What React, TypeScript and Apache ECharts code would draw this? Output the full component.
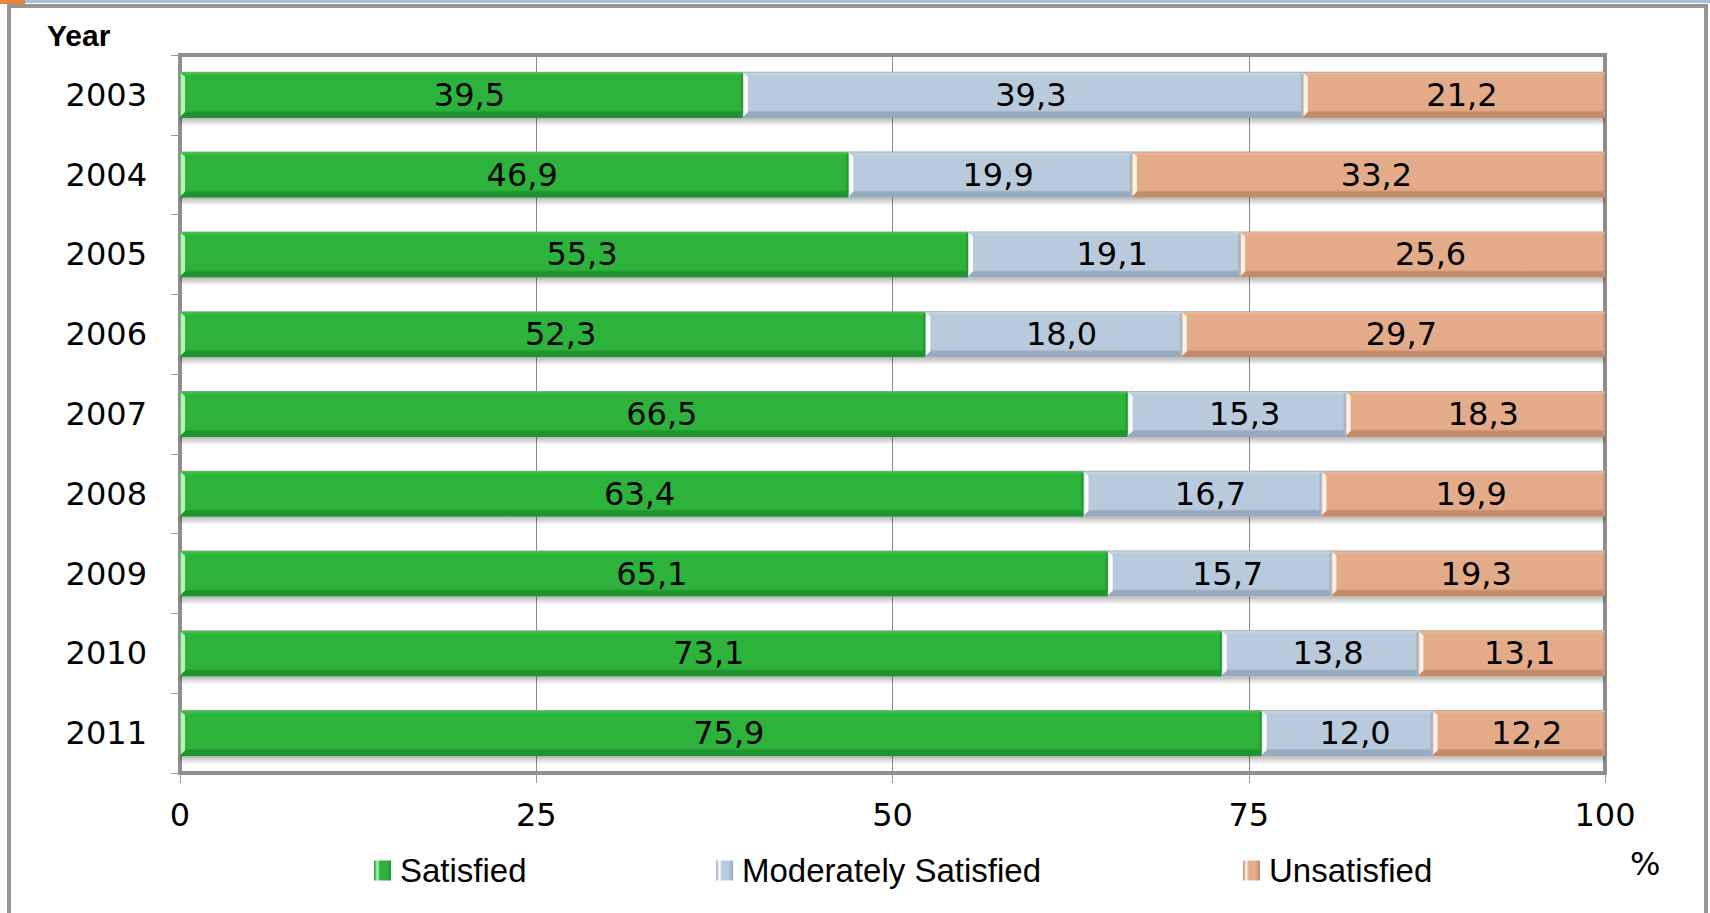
import React, { useEffect, useRef } from "react";
import * as echarts from "echarts";

// Survey results by year, shares in percent
const years = ["2003", "2004", "2005", "2006", "2007", "2008", "2009", "2010", "2011"];
const satisfied = [39.5, 46.9, 55.3, 52.3, 66.5, 63.4, 65.1, 73.1, 75.9];
const moderatelySatisfied = [39.3, 19.9, 19.1, 18.0, 15.3, 16.7, 15.7, 13.8, 12.0];
const unsatisfied = [21.2, 33.2, 25.6, 29.7, 18.3, 19.9, 19.3, 13.1, 12.2];
const seriesNames = ["Satisfied", "Moderately Satisfied", "Unsatisfied"];
const xTicks = [0, 25, 50, 75, 100];

type Palette = { main: string; top: string; bottom: string; light: string; edge: string };

const palettes: Palette[] = [
  { main: "#2db33b", top: "#3ac248", bottom: "#219230", light: "#b4f7ba", edge: "#229a30" },
  { main: "#b9cadc", top: "#c6d5e6", bottom: "#97a9bd", light: "#ffffff", edge: "#a3b4c7" },
  { main: "#e3ab8a", top: "#ebb898", bottom: "#c48b6b", light: "#fff1e6", edge: "#cf9676" },
];

const fmt = (v: number) => v.toFixed(1).replace(".", ",");

function buildSegments(values: number[][], idx: number) {
  return years.map((_, i) => {
    let start = 0;
    for (let k = 0; k < idx; k++) start += values[k][i];
    const v = values[idx][i];
    return [i, start, start + v, v];
  });
}

function makeRenderItem(p: Palette) {
  return (params: any, api: any) => {
    const cat = api.value(0);
    const start = api.value(1);
    const end = api.value(2);
    const val = api.value(3);
    const cs = params.coordSys;
    const p0 = api.coord([start, cat]);
    const p1 = api.coord([end, cat]);
    const band = api.size([0, 1])[1];
    const h = band * 0.578;
    const x = p0[0];
    const xEnd = Math.min(p1[0], cs.x + cs.width);
    const w = xEnd - x;
    const y = p0[1] - h / 2;
    const bevel = 5;
    return {
      type: "group",
      children: [
        // soft drop shadow under the bar
        {
          type: "rect",
          shape: { x, y: y + h, width: w, height: 8 },
          style: {
            fill: new echarts.graphic.LinearGradient(0, 0, 0, 1, [
              { offset: 0, color: "rgba(0,0,0,0.28)" },
              { offset: 1, color: "rgba(0,0,0,0)" },
            ]),
          },
        },
        {
          type: "rect",
          shape: { x, y, width: w, height: h },
          style: {
            fill: new echarts.graphic.LinearGradient(0, 0, 0, 1, [
              { offset: 0, color: "#a0a0a0" },
              { offset: 0.03, color: p.top },
              { offset: 0.1, color: p.main },
              { offset: 0.83, color: p.main },
              { offset: 0.88, color: p.bottom },
              { offset: 1, color: p.bottom },
            ]),
          },
        },
        {
          type: "polygon",
          shape: {
            points: [
              [x, y + 1],
              [x + bevel, y + 5],
              [x + bevel, y + h - 6],
              [x, y + h - 1],
            ],
          },
          style: {
            fill: new echarts.graphic.LinearGradient(0, 0, 1, 0, [
              { offset: 0, color: p.main },
              { offset: 0.3, color: p.light },
              { offset: 1, color: p.light },
            ]),
          },
        },
        {
          type: "rect",
          shape: { x: x + w - 2, y: y + 2, width: 2, height: h - 4 },
          style: { fill: p.edge },
        },
        {
          type: "text",
          style: {
            text: fmt(val),
            x: x + w / 2 + 8,
            y: p0[1],
            align: "center",
            verticalAlign: "middle",
            textAlign: "center",
            textVerticalAlign: "middle",
            fill: "#000",
            font: "32px 'DejaVu Sans'",
          },
        },
      ],
    };
  };
}

export default function App() {
  const ref = useRef<HTMLDivElement>(null);

  useEffect(() => {
    if (!ref.current) return;
    const chart = echarts.init(ref.current, undefined, { renderer: "svg" });
    const values = [satisfied, moderatelySatisfied, unsatisfied];

    const legendLefts = [374, 716, 1243];
    const legends = seriesNames.map((name, i) => ({
      left: legendLefts[i],
      top: 854,
      icon: "rect",
      itemWidth: 17,
      itemHeight: 20,
      padding: 0,
      data: [
        {
          name,
          itemStyle: {
            color: new echarts.graphic.LinearGradient(0, 0, 1, 0, [
              { offset: 0, color: palettes[i].bottom },
              { offset: 0.2, color: palettes[i].light },
              { offset: 0.35, color: palettes[i].main },
              { offset: 0.75, color: palettes[i].main },
              { offset: 1, color: palettes[i].bottom },
            ]),
          },
        },
      ],
      textStyle: {
        fontFamily: "'Liberation Sans', Arial, sans-serif",
        fontSize: 33,
        color: "#000",
        padding: [0, 0, 0, 4],
      },
      selectedMode: false,
    }));

    chart.setOption({
      animation: false,
      backgroundColor: "#ffffff",
      legend: legends,
      grid: {
        left: 180,
        right: 105,
        top: 55,
        bottom: 140,
        show: true,
        borderColor: "#958c8c",
        borderWidth: 4,
        backgroundColor: "transparent",
      },
      xAxis: {
        type: "value",
        min: 0,
        max: 100,
        interval: 25,
        axisLine: { show: false },
        axisTick: { show: true, inside: false, length: 10, lineStyle: { color: "#9a9a9a", width: 1 } },
        splitLine: { show: true, lineStyle: { color: "#8a8a8a", width: 1 } },
        axisLabel: {
          margin: 26,
          fontFamily: "'DejaVu Sans'",
          fontSize: 32,
          color: "#000",
          formatter: (v: number) => (xTicks.includes(v) ? String(v) : ""),
        },
      },
      yAxis: {
        type: "category",
        data: years,
        inverse: true,
        axisLine: { show: false },
        axisTick: { show: true, length: 9, lineStyle: { color: "#9a9a9a", width: 1 } },
        axisLabel: {
          margin: 33,
          fontFamily: "'DejaVu Sans'",
          fontSize: 32,
          color: "#000",
        },
      },
      graphic: [
        {
          type: "rect",
          shape: { x: 0, y: 0, width: 1710, height: 3 },
          style: { fill: "#a7c1dd" },
          silent: true,
        },
        {
          type: "rect",
          shape: { x: 0, y: 0, width: 25, height: 4 },
          style: { fill: "#e8843a" },
          silent: true,
        },
        {
          type: "rect",
          shape: { x: 9, y: 6, width: 1697, height: 920 },
          style: { fill: "none", stroke: "#9c9393", lineWidth: 4 },
          silent: true,
        },
        {
          type: "text",
          left: 47,
          top: 20,
          style: {
            text: "Year",
            fill: "#000",
            font: "bold 30px 'Liberation Sans', Arial, sans-serif",
          },
        },
        {
          type: "text",
          left: 1630,
          top: 848,
          style: {
            text: "%",
            fill: "#000",
            font: "32px 'DejaVu Sans'",
          },
        },
      ],
      series: seriesNames.map((name, i) => ({
        name,
        type: "custom",
        coordinateSystem: "cartesian2d",
        itemStyle: { color: palettes[i].main },
        encode: { x: [1, 2], y: 0 },
        data: buildSegments(values, i),
        renderItem: makeRenderItem(palettes[i]),
        z: 3 - i,
      })),
    });

    return () => chart.dispose();
  }, []);

  return (
    <div
      ref={ref}
      style={{ position: "fixed", left: 0, top: 0, width: 1710, height: 913 }}
    />
  );
}
